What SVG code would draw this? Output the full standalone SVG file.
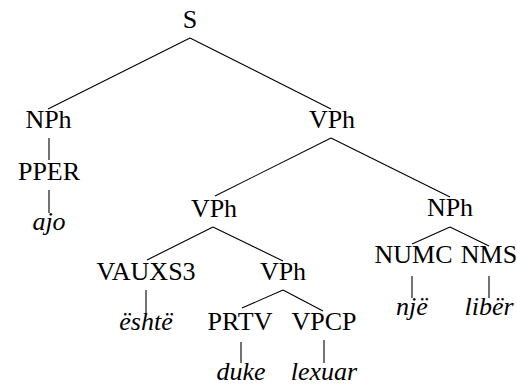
<svg xmlns="http://www.w3.org/2000/svg" width="517" height="385" viewBox="0 0 517 385" font-family="Liberation Serif, serif">
<rect width="517" height="385" fill="#fff"/>
<g id="edges" stroke="#000" stroke-width="1.1">
<line x1="190" y1="38" x2="48" y2="109"/>
<line x1="190" y1="38" x2="331" y2="109"/>
<line x1="49" y1="138" x2="49" y2="160"/>
<line x1="49" y1="190" x2="49" y2="213"/>
<line x1="331" y1="138" x2="215" y2="196"/>
<line x1="331" y1="138" x2="450" y2="197"/>
<line x1="213" y1="227" x2="147" y2="260"/>
<line x1="213" y1="227" x2="283" y2="261"/>
<line x1="146" y1="290" x2="146" y2="313"/>
<line x1="283" y1="290" x2="242" y2="308"/>
<line x1="283" y1="290" x2="323" y2="311"/>
<line x1="241" y1="342" x2="241" y2="363"/>
<line x1="324" y1="340" x2="324" y2="363"/>
<line x1="450" y1="227" x2="412" y2="244"/>
<line x1="450" y1="227" x2="489" y2="246"/>
<line x1="412" y1="276" x2="412" y2="298"/>
<line x1="489" y1="276" x2="489" y2="298"/>
</g>
<g font-family="Liberation Serif" font-size="26" fill="#000" text-anchor="middle">
<g id="n-S"><text x="190" y="28">S</text></g>
<g id="n-NPh1"><text x="48.5" y="128">NPh</text></g>
<g id="n-VPh1"><text x="332" y="128">VPh</text></g>
<g id="n-PPER"><text x="49" y="180">PPER</text></g>
<g id="n-ajo"><text font-style="italic" x="49" y="230">ajo</text></g>
<g id="n-VPh2"><text x="214" y="217">VPh</text></g>
<g id="n-NPh2"><text x="450" y="216">NPh</text></g>
<g id="n-VAUXS3"><text x="146" y="280">VAUXS3</text></g>
<g id="n-VPh3"><text x="283" y="280">VPh</text></g>
<g id="n-NUMC"><text x="413.5" y="263">NUMC</text></g>
<g id="n-NMS"><text x="489" y="263">NMS</text></g>
<g id="n-eshte"><text font-style="italic" x="146" y="330">&#235;sht&#235;</text></g>
<g id="n-PRTV"><text x="240" y="330">PRTV</text></g>
<g id="n-VPCP"><text x="324" y="330">VPCP</text></g>
<g id="n-nje"><text font-style="italic" x="412" y="315">nj&#235;</text></g>
<g id="n-liber"><text font-style="italic" x="489" y="315">lib&#235;r</text></g>
<g id="n-duke"><text font-style="italic" x="241" y="380">duke</text></g>
<g id="n-lexuar"><text font-style="italic" x="324" y="380">lexuar</text></g>
</g>
</svg>
